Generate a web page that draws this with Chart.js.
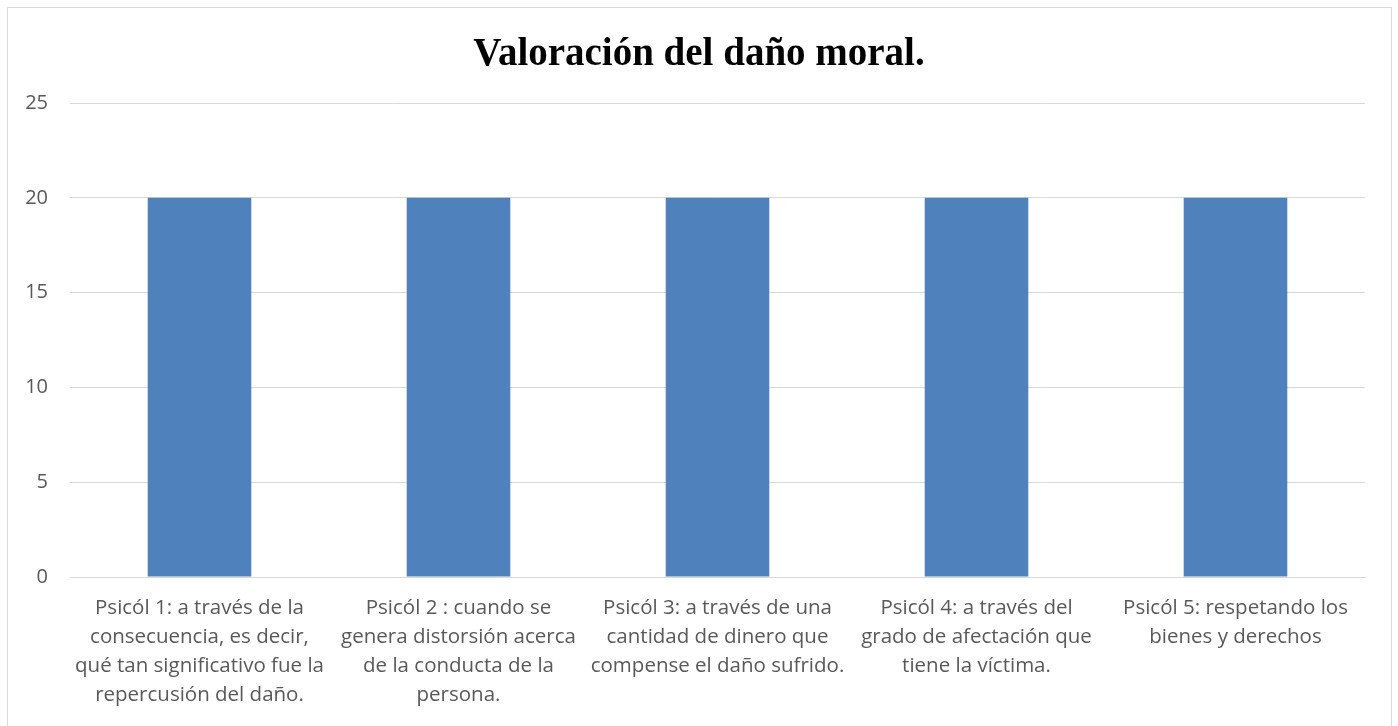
<!DOCTYPE html>
<html>
<head>
<meta charset="utf-8">
<script src="https://cdn.jsdelivr.net/npm/chart.js@4.4.0/dist/chart.umd.min.js"></script>
<style>
  html, body { margin: 0; padding: 0; background: #fff; }
  #marco { position: absolute; left: 7px; top: 7px; width: 1385px; height: 760px; border: 1px solid #d9d9d9; box-sizing: border-box; }
  #contenedor { position: absolute; left: 0; top: 0; width: 1398px; height: 726px; overflow: hidden; }
</style>
</head>
<body>
<div id="contenedor">
  <div id="marco"></div>
  <canvas id="myChart" width="1398" height="726" style="position:absolute;left:0;top:0;"></canvas>
</div>
<script>
const titulo = "Valoración del daño moral.";
const categorias = [
  ["Psicól 1: a través de la", "consecuencia, es decir,", "qué tan significativo fue la", "repercusión del daño."],
  ["Psicól 2 : cuando se", "genera distorsión acerca", "de la conducta de la", "persona."],
  ["Psicól 3: a través de una", "cantidad de dinero que", "compense el daño sufrido."],
  ["Psicól 4: a través del", "grado de afectación que", "tiene la víctima."],
  ["Psicól 5: respetando los", "bienes y derechos"]
];
const valores = [20, 20, 20, 20, 20];
const ejeMin = 0;
const ejeMax = 25;
const ejePaso = 5;

const colorTexto = "#595959";
const colorRejilla = "#d9d9d9";
const fuenteEtiquetas = "'Open Sans', Lato, 'Noto Sans', sans-serif";

const myChart = document.getElementById("myChart");
const config = {
  type: "bar",
  data: {
    labels: categorias,
    datasets: [
      {
        label: "Serie 1",
        data: valores,
        backgroundColor: "#4f81bd",
        categoryPercentage: 1,
        barPercentage: 0.4,
      },
    ],
  },
  options: {
    responsive: false,
    animation: false,
    layout: { padding: 0 },
    plugins: {
      legend: { display: false },
      tooltip: { enabled: false },
      title: {
        display: true,
        text: titulo,
        color: "#000",
        font: { family: "'Liberation Serif', 'DejaVu Serif', serif", size: 39, weight: "bold" },
        padding: { top: 32, bottom: 24.2 },
      },
    },
    scales: {
      x: {
        grid: { display: false, drawTicks: false },
        border: { display: true, color: colorRejilla, width: 1 },
        ticks: {
          color: colorTexto,
          font: { family: fuenteEtiquetas, size: 20.5, lineHeight: 1.415 },
          padding: 17,
          maxRotation: 0,
          minRotation: 0,
          autoSkip: false,
        },
        afterFit: (scale) => { scale.height = 149; },
      },
      y: {
        min: ejeMin,
        max: ejeMax,
        ticks: {
          stepSize: ejePaso,
          color: colorTexto,
          font: { family: fuenteEtiquetas, size: 20 },
          padding: 22,
        },
        grid: { color: colorRejilla, lineWidth: 1, drawTicks: false },
        border: { display: false },
        afterFit: (scale) => { scale.width = 70; },
      },
      // eje vacío a la derecha para dejar el margen sin descentrar el título
      derecha: {
        position: "right",
        display: true,
        ticks: { display: false },
        grid: { display: false, drawTicks: false },
        border: { display: false },
        afterFit: (scale) => { scale.width = 33; },
      },
    },
  },
};
myChart.chart = new Chart(myChart, config);
</script>
</body>
</html>
